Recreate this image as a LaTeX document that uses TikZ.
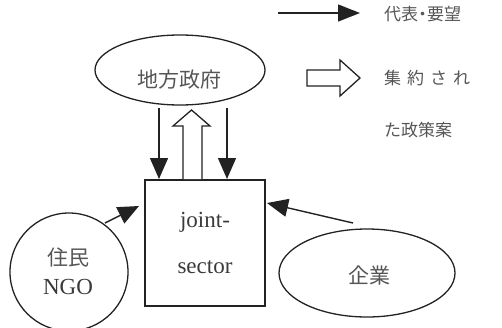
\documentclass[tikz,border=0pt]{standalone}
\usepackage{fontspec}
\setmainfont{Liberation Serif}
\newfontfamily\jp{Noto Sans CJK JP}
\usetikzlibrary{arrows.meta,shapes.geometric}
\definecolor{ink}{HTML}{222222}
\definecolor{txt}{HTML}{3A3A3A}
\definecolor{jtxt}{HTML}{555555}
\tikzset{
  arr/.style={draw=ink, line width=1.4pt, -{Triangle[length=21pt,width=18pt]}},
  shp/.style={draw=ink, line width=1.3pt, inner sep=0pt},
  ell/.style={shp, ellipse},
  jpt/.style={text=jtxt, font=\jp\fontsize{21}{25}\selectfont, inner sep=0pt},
  jps/.style={text=jtxt, font=\jp\fontsize{17}{20}\selectfont, inner sep=0pt},
  lat/.style={text=txt, font=\fontsize{23}{27}\selectfont, inner sep=0pt},
  hollow/.style={draw=ink, line width=1.3pt, fill=white, line join=miter}
}
\begin{document}
\begin{tikzpicture}[x=1pt,y=-1pt]
\useasboundingbox (0,0) rectangle (502,327);
% nodes
\node[ell, minimum width=170pt, minimum height=70pt] (gov) at (180,70) {};
\node[jpt] (govt) at (179,80) {地方政府};
\node[shp, minimum width=120pt, minimum height=126pt] (js) at (205,243) {};
\node[lat, anchor=base] (js1) at (205,227) {joint-};
\node[lat, anchor=base] (js2) at (205,273) {sector};
\node[shp, circle, minimum size=118pt] (ngo) at (69,272) {};
\node[jpt] (ngo1) at (68,257) {住民};
\node[lat, anchor=base] (ngo2) at (68,294) {NGO};
\node[ell, minimum width=176pt, minimum height=88pt] (ent) at (367,273) {};
\node[jpt] (entt) at (369,275) {企業};
% legend
\coordinate (l1s) at (278,13);
\coordinate (l1e) at (360,13);
\draw[arr, -{Triangle[length=22pt,width=17pt]}] (l1s) -- (l1e);
\node[jps, anchor=west] (lg1) at (384,14) {代表\hspace{-4pt}・\hspace{-4pt}要望};
\node[jps, anchor=west] (lg2) at (384,78) {集\hspace{6pt}約\hspace{6pt}さ\hspace{6pt}れ};
\node[jps, anchor=west] (lg3) at (384,130) {た政策案};
\draw[hollow] (307,70) -- (340,70) -- (340,60) -- (360,78) -- (340,96) -- (340,86) -- (307,86) -- cycle;
% vertical arrows
\coordinate (d1s) at (159,108);
\coordinate (d1e) at (159,179);
\coordinate (d2s) at (227,108);
\coordinate (d2e) at (227,179);
\draw[arr] (d1s) -- (d1e);
\draw[arr] (d2s) -- (d2e);
\draw[hollow] (183,179) -- (183,126) -- (173,126) -- (191.5,110) -- (210,126) -- (202,126) -- (202,179);
% side arrows
\coordinate (n1s) at (105,223);
\coordinate (n1e) at (139,206);
\draw[arr] (n1s) -- (n1e);
\coordinate (e1s) at (353,223);
\coordinate (e1e) at (267,203);
\draw[arr] (e1s) -- (e1e);
\end{tikzpicture}
\end{document}
